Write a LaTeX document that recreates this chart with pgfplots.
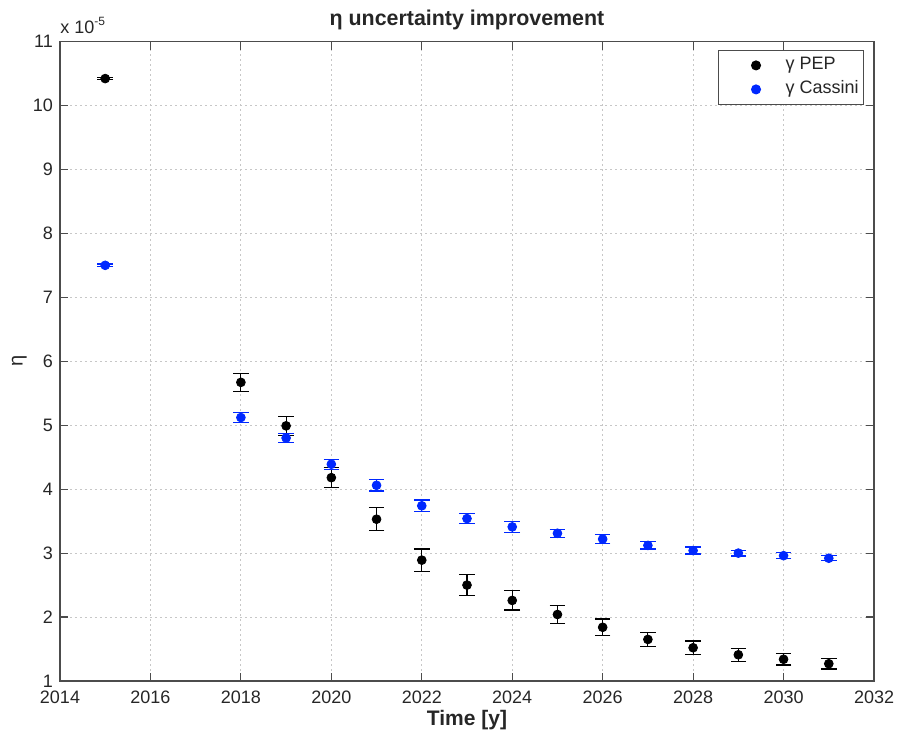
\documentclass[border=0pt]{standalone}
\usepackage{fontspec}
\setmainfont{Liberation Sans}
\usepackage{pgfplots}
\pgfplotsset{compat=1.18}
\usepackage{pgfplotstable}

% eta (in units of 1e-5) and its 1-sigma uncertainty per year
\pgfplotstableread{
year eta   err
2015 10.42 0.02
2018 5.67  0.14
2019 4.99  0.145
2020 4.18  0.16
2021 3.53  0.18
2022 2.89  0.175
2023 2.50  0.16
2024 2.26  0.15
2025 2.04  0.135
2026 1.84  0.13
2027 1.65  0.11
2028 1.52  0.105
2029 1.41  0.10
2030 1.34  0.09
2031 1.27  0.083
}\peptable

\pgfplotstableread{
year eta   err
2015 7.50  0.02
2018 5.12  0.075
2019 4.80  0.073
2020 4.39  0.08
2021 4.06  0.09
2022 3.74  0.09
2023 3.54  0.083
2024 3.41  0.086
2025 3.31  0.065
2026 3.22  0.068
2027 3.12  0.057
2028 3.04  0.055
2029 3.00  0.045
2030 2.96  0.045
2031 2.92  0.04
}\cassinitable

\definecolor{mblue}{RGB}{0,40,255}

\begin{document}
\begin{tikzpicture}
\begin{axis}[
  name=ax,
  scale only axis,
  width=407pt, height=319.75pt,
  xmin=2014, xmax=2032, ymin=1, ymax=11,
  xtick={2014,2016,...,2032},
  ytick={1,2,...,11},
  /pgf/number format/assume math mode=true,
  /pgf/number format/1000 sep={},
  grid=major,
  major grid style={black!22, dash pattern=on 1pt off 1.5pt, line width=0.4pt},
  axis line style={black!70, line width=0.6pt},
  tick style={black!70, line width=0.6pt},
  major tick length=4pt,
  tick align=inside,
  ticklabel style={font=\fontsize{9}{11}\selectfont, text=black!85},
  xticklabel style={anchor=base, yshift=-11pt},
  title={η uncertainty improvement},
  title style={font=\bfseries\fontsize{10.7}{13}\selectfont, text=black!85,
    at={(0.5,1)}, anchor=base, yshift=2.25pt},
  xlabel={Time [y]},
  xlabel style={font=\bfseries\fontsize{10.5}{12}\selectfont, text=black!85,
    at={(0.5,0)}, anchor=base, yshift=-22pt},
  ylabel={η},
  ylabel style={font=\fontsize{10}{12}\selectfont, text=black!85,
    at={(axis description cs:-0.05,0.5)}, anchor=center},
  legend style={at={(0.988,0.987)}, anchor=north east,
    draw=black!70, line width=0.6pt, fill=white,
    inner xsep=0.5pt, inner ysep=2.25pt, row sep=1.5pt,
    font=\fontsize{9}{11}\selectfont, text=black!85,
    nodes={inner ysep=1pt, text height=6.5pt, text depth=2pt}},
  legend cell align=left,
  legend image code/.code={%
    \path (0pt,0pt) (30.5pt,0pt);
    \draw[#1] plot coordinates {(18pt,0pt)};},
]
\addplot[only marks, mark=*, color=black, mark size=2.2pt,
  error bars/.cd, y dir=both, y explicit,
  error mark options={rotate=90, black, mark size=3.9pt, line width=0.6pt},
  error bar style={black, line width=0.6pt}]
  table[x=year, y=eta, y error=err] {\peptable};
\addlegendentry{γ PEP}
\addplot[only marks, mark=*, color=mblue, mark size=2.2pt,
  error bars/.cd, y dir=both, y explicit,
  error mark options={rotate=90, mblue, mark size=3.9pt, line width=0.6pt},
  error bar style={mblue, line width=0.6pt}]
  table[x=year, y=eta, y error=err] {\cassinitable};
\addlegendentry{γ Cassini}
\end{axis}
% exponent of the y scale, above the top-left corner
\node[anchor=base west, inner sep=0pt, font=\fontsize{9}{11}\selectfont, text=black!85]
  at ([yshift=4.25pt]ax.north west) {x 10\textsuperscript{-5}};
\pgfresetboundingbox
\path[use as bounding box] ([shift={(-30pt,-30pt)}]ax.south west)
  rectangle ([shift={(12.5pt,20.75pt)}]ax.north east);
\end{tikzpicture}
\end{document}
